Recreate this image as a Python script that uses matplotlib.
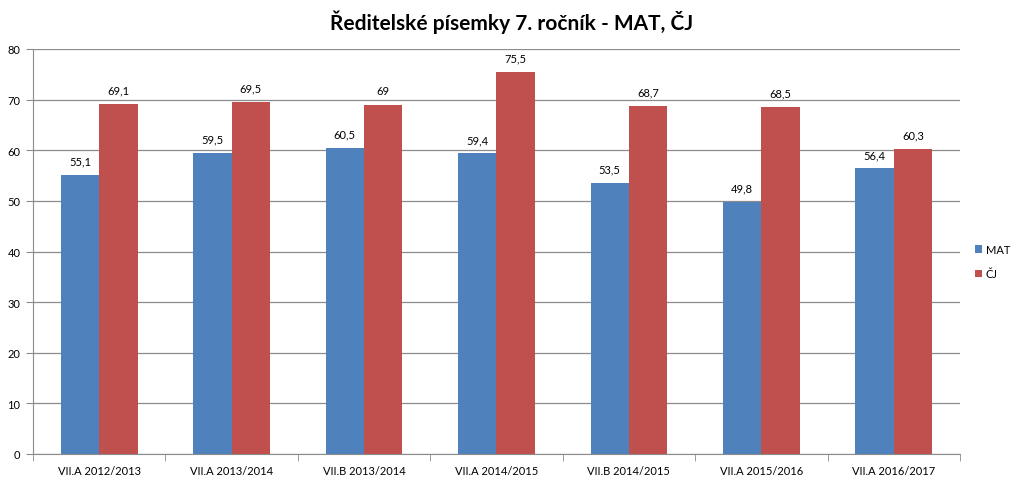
import matplotlib
matplotlib.use("Agg")
import matplotlib.pyplot as plt
import numpy as np

categories = ["VII.A 2012/2013", "VII.A 2013/2014", "VII.B 2013/2014", "VII.A 2014/2015",
              "VII.B 2014/2015", "VII.A 2015/2016", "VII.A 2016/2017"]
mat = [55.1, 59.5, 60.5, 59.4, 53.5, 49.8, 56.4]
cj = [69.1, 69.5, 69, 75.5, 68.7, 68.5, 60.3]
mat_labels = ["55,1", "59,5", "60,5", "59,4", "53,5", "49,8", "56,4"]
cj_labels = ["69,1", "69,5", "69", "75,5", "68,7", "68,5", "60,3"]

plt.rcParams['font.family'] = ['Lato', 'DejaVu Sans']

fig = plt.figure(figsize=(10.24, 4.85), dpi=100)
ax = fig.add_axes([33/1024, 1-455/485, (960-33)/1024, (455-50)/485])

x = np.arange(len(categories))
w = 0.29
b1 = ax.bar(x - w/2, mat, w, color="#4F81BD", label="MAT", zorder=3)
b2 = ax.bar(x + w/2, cj, w, color="#C0504D", label="ČJ", zorder=3)

for rect, lab in zip(b1, mat_labels):
    ax.annotate(lab, (rect.get_x() + rect.get_width()/2, rect.get_height()),
                xytext=(0, 6), textcoords="offset points", ha="center", va="bottom", fontsize=8)
for rect, lab in zip(b2, cj_labels):
    ax.annotate(lab, (rect.get_x() + rect.get_width()/2, rect.get_height()),
                xytext=(0, 6), textcoords="offset points", ha="center", va="bottom", fontsize=8)

ax.set_xlim(-0.5, len(categories) - 0.5)
ax.set_ylim(0, 80)
ax.set_yticks(range(0, 81, 10))
ax.yaxis.grid(True, color="#8c8c8c", linewidth=0.9, zorder=0)
ax.set_axisbelow(True)

ax.set_xticks(x)
ax.set_xticklabels(categories, fontsize=8)
ax.set_xticks(np.arange(-0.5, len(categories), 1), minor=True)
ax.tick_params(axis="x", which="major", length=0, pad=8)
ax.tick_params(axis="x", which="minor", length=5, color="#8c8c8c", direction="out")
ax.tick_params(axis="y", length=5, color="#8c8c8c", direction="out", labelsize=8, pad=4)

for s in ["top", "right"]:
    ax.spines[s].set_visible(False)
ax.spines["left"].set_color("#8c8c8c")
ax.spines["bottom"].set_color("#8c8c8c")

fig.text(0.5, 0.955, "Ředitelské písemky 7. ročník - MAT, ČJ", ha="center", va="center",
         fontsize=15, fontweight="bold")

ax.legend(loc="center left", bbox_to_anchor=(1.005, 0.475), frameon=False, fontsize=8,
          handlelength=0.7, handleheight=0.7, handletextpad=0.3, labelspacing=1.2)

fig.savefig("out.png", dpi=100)
